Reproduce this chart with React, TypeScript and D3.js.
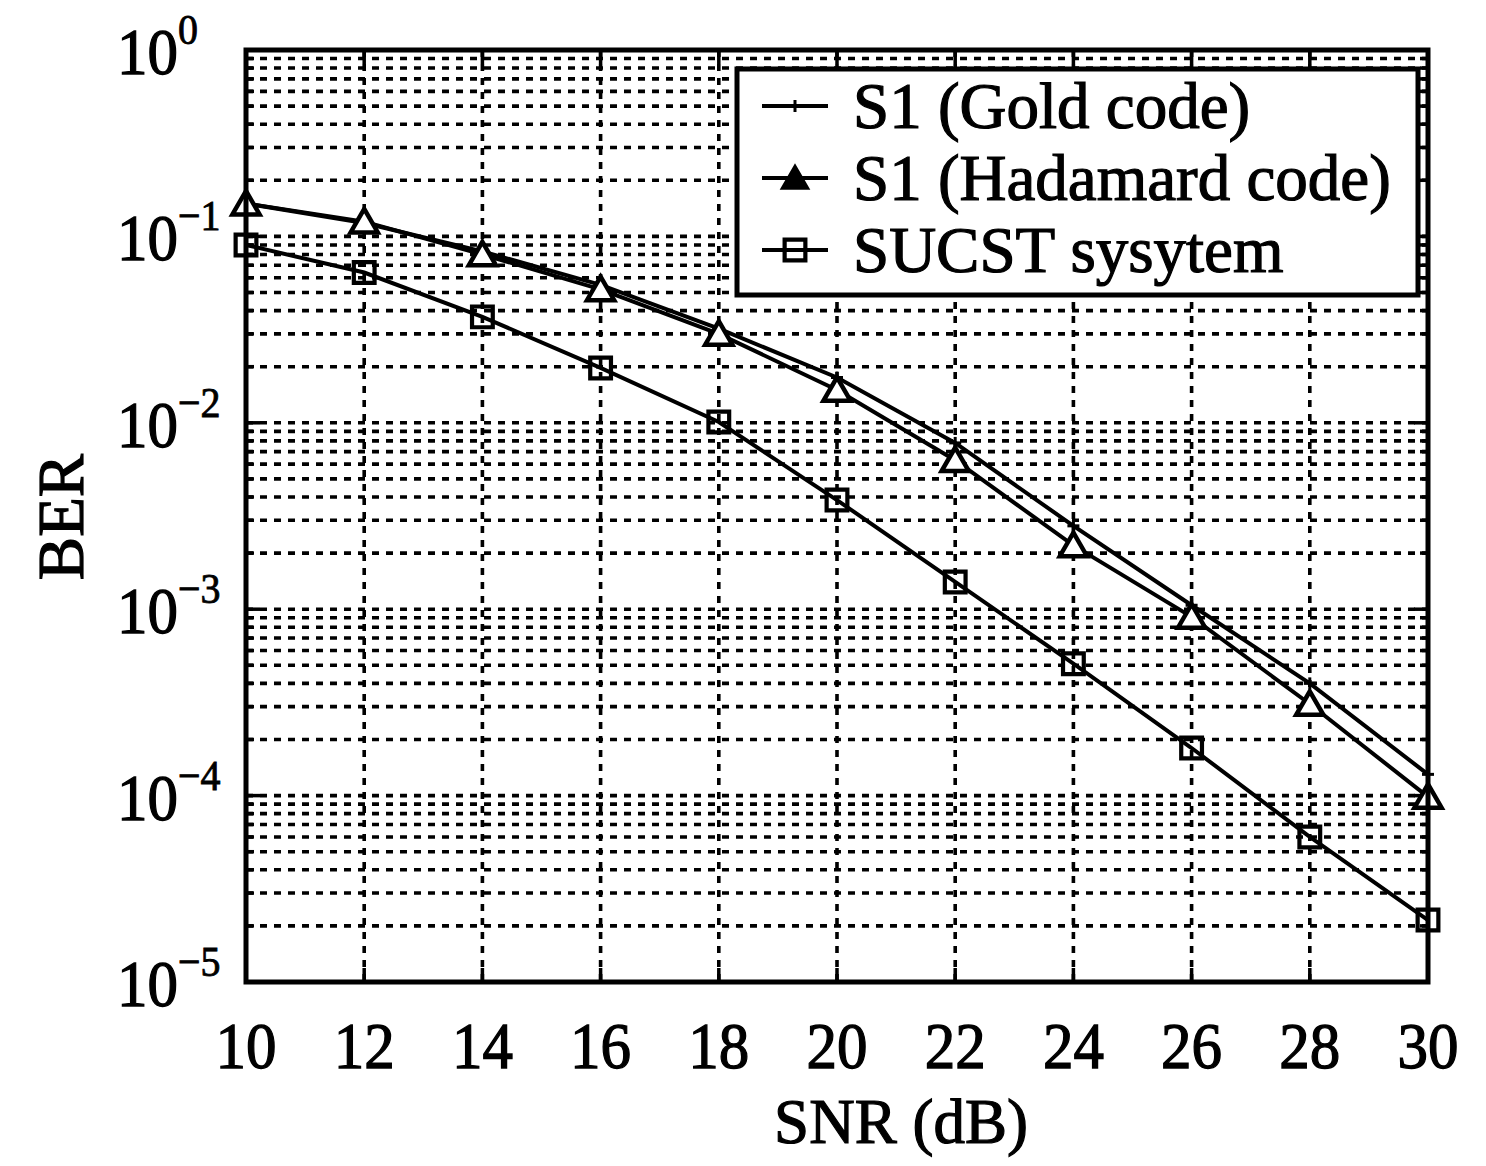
import React from "react";
import * as d3 from "d3";

const snr = [10, 12, 14, 16, 18, 20, 22, 24, 26, 28, 30];
const goldBER = [0.15, 0.118, 0.083, 0.055, 0.032, 0.0175, 0.0078, 0.0028, 0.00105, 0.0004, 0.00013];
const hadamardBER = [0.15, 0.12, 0.08, 0.052, 0.03, 0.015, 0.0063, 0.0022, 0.00091, 0.00031, 0.0000985];
const sucstBER = [0.09, 0.064, 0.037, 0.0197, 0.0101, 0.00385, 0.0014, 0.00051, 0.00018, 0.00006, 0.0000215];
const xTicks = [10, 12, 14, 16, 18, 20, 22, 24, 26, 28, 30];
const yExponents = [0, -1, -2, -3, -4, -5];
const legendLabels = ["S1 (Gold code)", "S1 (Hadamard code)", "SUCST sysytem"];

const W = 1486;
const H = 1166;
const L = 246, R = 1428, T = 50, B = 982;
const FONT = "'Liberation Serif', 'Times New Roman', serif";

const x = d3.scaleLinear().domain([10, 30]).range([L, R]);
const y = d3.scaleLog().domain([1e-5, 1]).range([B, T]);

const line = d3
  .line<[number, number]>()
  .x((d) => x(d[0]))
  .y((d) => y(d[1]));

const tri = d3.symbol(d3.symbolTriangle, 320)();
const sq = d3.symbol(d3.symbolSquare, 430)();

function Marker({ kind, cx, cy }: { kind: string; cx: number; cy: number }) {
  if (kind === "tri")
    return <path d={tri || ""} transform={`translate(${cx},${cy + 3})`} fill="#fff" stroke="#000" strokeWidth={4.5} />;
  if (kind === "triFill")
    return <path d={tri || ""} transform={`translate(${cx},${cy + 3})`} fill="#000" stroke="#000" strokeWidth={2} />;
  if (kind === "sq")
    return <path d={sq || ""} transform={`translate(${cx},${cy})`} fill="none" stroke="#000" strokeWidth={4.2} />;
  return (
    <g stroke="#000" strokeWidth={3}>
      <line x1={cx - 6} x2={cx + 6} y1={cy} y2={cy} />
      <line x1={cx} x2={cx} y1={cy - 6} y2={cy + 6} />
    </g>
  );
}

export default function App() {
  const minorY: number[] = [];
  for (let e = -5; e < 0; e++) {
    for (let m = 2; m <= 9; m++) minorY.push(m * Math.pow(10, e));
  }
  const majorY = yExponents.map((e) => Math.pow(10, e));
  const series = [
    { data: goldBER, kind: "plus" },
    { data: hadamardBER, kind: "tri" },
    { data: sucstBER, kind: "sq" },
  ];
  const dash = "7 7";
  const txtStroke = 1.2;
  return (
    <svg width={W} height={H} style={{ position: "absolute", left: 0, top: 0, background: "#fff" }}>
      <rect x={0} y={0} width={W} height={H} fill="#fff" />
      {/* grid */}
      <g stroke="#000" strokeWidth={3.6} strokeDasharray={dash} fill="none">
        {[...minorY, ...majorY].map((v, i) => (
          <line key={"h" + i} x1={L} x2={R} y1={y(v)} y2={y(v)} />
        ))}
        {xTicks.map((t) => (
          <line key={"v" + t} x1={x(t)} x2={x(t)} y1={T} y2={B} />
        ))}
      </g>
      {/* ticks */}
      <g stroke="#000" strokeWidth={3.5}>
        {xTicks.map((t) => (
          <g key={"xt" + t}>
            <line x1={x(t)} x2={x(t)} y1={B} y2={B - 14} />
            <line x1={x(t)} x2={x(t)} y1={T} y2={T + 14} />
          </g>
        ))}
        {majorY.map((v, i) => (
          <g key={"yt" + i}>
            <line x1={L} x2={L + 14} y1={y(v)} y2={y(v)} />
            <line x1={R} x2={R - 14} y1={y(v)} y2={y(v)} />
          </g>
        ))}
        {minorY.map((v, i) => (
          <g key={"ym" + i}>
            <line x1={L} x2={L + 8} y1={y(v)} y2={y(v)} />
            <line x1={R} x2={R - 8} y1={y(v)} y2={y(v)} />
          </g>
        ))}
      </g>
      {/* series */}
      {series.map((s, si) => {
        const pts = snr.map((v, i) => [v, s.data[i]] as [number, number]);
        return (
          <g key={"s" + si}>
            <path d={line(pts) || ""} fill="none" stroke="#000" strokeWidth={4} />
            {pts.map((p, i) => (
              <Marker key={i} kind={s.kind} cx={x(p[0])} cy={y(p[1])} />
            ))}
          </g>
        );
      })}
      {/* axes box */}
      <rect x={L} y={T} width={R - L} height={B - T} fill="none" stroke="#000" strokeWidth={5} />
      {/* legend */}
      <g>
        <rect x={737} y={69} width={681} height={226} fill="#fff" stroke="#000" strokeWidth={5} />
        {legendLabels.map((lab, i) => {
          const cy = 106 + i * 72;
          const kind = i === 0 ? "plus" : i === 1 ? "triFill" : "sq";
          return (
            <g key={"lg" + i}>
              <line x1={762} x2={828} y1={cy} y2={cy} stroke="#000" strokeWidth={4} />
              <Marker kind={kind} cx={795} cy={cy} />
              <text
                x={853}
                y={cy + 22}
                fontFamily={FONT}
                fontSize={65}
                fill="#000"
                stroke="#000"
                strokeWidth={txtStroke}
              >
                {lab}
              </text>
            </g>
          );
        })}
      </g>
      {/* x tick labels */}
      {xTicks.map((t) => (
        <text
          key={"xl" + t}
          transform={`translate(${x(t)},1068) scale(1,1.08)`}
          textAnchor="middle"
          fontFamily={FONT}
          fontSize={61}
          fill="#000"
          stroke="#000"
          strokeWidth={txtStroke}
        >
          {t}
        </text>
      ))}
      {/* y tick labels */}
      {yExponents.map((e) => {
        const yy = y(Math.pow(10, e));
        return (
          <g key={"yl" + e}>
            <text
              transform={`translate(178,${yy + 24}) scale(1,1.08)`}
              textAnchor="end"
              fontFamily={FONT}
              fontSize={61}
              fill="#000"
              stroke="#000"
              strokeWidth={txtStroke}
            >
              10
            </text>
            <text
              transform={`translate(178,${yy - 6}) scale(1,1.08)`}
              textAnchor="start"
              fontFamily={FONT}
              fontSize={40}
              fill="#000"
              stroke="#000"
              strokeWidth={0.8}
            >
              {e === 0 ? "0" : "\u2212" + Math.abs(e)}
            </text>
          </g>
        );
      })}
      {/* axis labels */}
      <text
        x={901}
        y={1143}
        textAnchor="middle"
        fontFamily={FONT}
        fontSize={63}
        fill="#000"
        stroke="#000"
        strokeWidth={txtStroke}
      >
        SNR (dB)
      </text>
      <text
        transform="translate(83,517) rotate(-90)"
        textAnchor="middle"
        fontFamily={FONT}
        fontSize={65}
        fill="#000"
        stroke="#000"
        strokeWidth={txtStroke}
      >
        BER
      </text>
    </svg>
  );
}
